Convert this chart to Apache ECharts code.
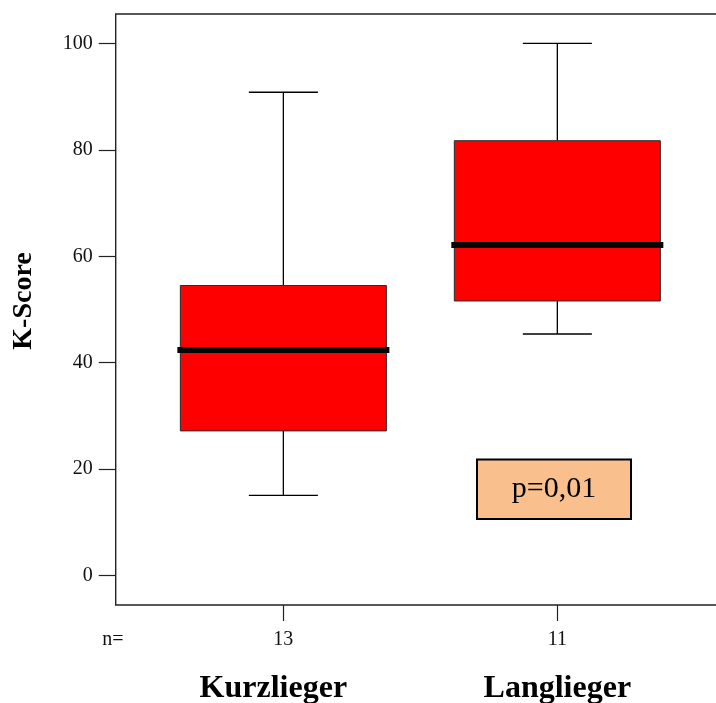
<!DOCTYPE html>
<html>
<head>
<meta charset="utf-8">
<script src="https://cdn.jsdelivr.net/npm/echarts@6/dist/echarts.min.js"></script>
<style>
  html, body { margin: 0; padding: 0; background: #fff; }
  #chart { width: 716px; height: 703px; }
</style>
</head>
<body>
<div id="chart"></div>
<script>
// Groups and their sample sizes
const categories = ['Kurzlieger', 'Langlieger'];
const sampleSizes = [13, 11];

// Five-number summaries of the K-Score per group
const minValues    = [15.1, 45.4];
const q1Values     = [27.2, 51.6];
const medianValues = [42.4, 62.1];
const q3Values     = [54.5, 81.7];
const maxValues    = [90.8, 100];

// Y axis tick values
const yTicks = [0, 20, 40, 60, 80, 100];

const pText = 'p=0,01';

const SERIF = '"Liberation Serif", "Times New Roman", "DejaVu Serif", serif';
const BOX_WIDTH = 0.752;   // in x-axis units
const CAP_WIDTH = 0.252;   // in x-axis units

const xPositions = categories.map((_, i) => i + 1);
const boxData = categories.map((_, i) => [
  xPositions[i], minValues[i], q1Values[i], medianValues[i], q3Values[i], maxValues[i]
]);

function renderBox(params, api) {
  const x = api.value(0);
  const pMin = api.coord([x, api.value(1)]);
  const pQ1 = api.coord([x, api.value(2)]);
  const pMed = api.coord([x, api.value(3)]);
  const pQ3 = api.coord([x, api.value(4)]);
  const pMax = api.coord([x, api.value(5)]);
  const halfBox = api.size([BOX_WIDTH, 0])[0] / 2;
  const halfCap = api.size([CAP_WIDTH, 0])[0] / 2;
  const cx = pMed[0];
  const lineStyle = { stroke: '#000', lineWidth: 1.3 };
  return {
    type: 'group',
    children: [
      { type: 'line', shape: { x1: cx, y1: pQ3[1], x2: cx, y2: pMax[1] }, style: lineStyle },
      { type: 'line', shape: { x1: cx - halfCap, y1: pMax[1], x2: cx + halfCap, y2: pMax[1] }, style: lineStyle },
      { type: 'line', shape: { x1: cx, y1: pQ1[1], x2: cx, y2: pMin[1] }, style: lineStyle },
      { type: 'line', shape: { x1: cx - halfCap, y1: pMin[1], x2: cx + halfCap, y2: pMin[1] }, style: lineStyle },
      {
        type: 'rect',
        shape: { x: cx - halfBox, y: pQ3[1], width: halfBox * 2, height: pQ1[1] - pQ3[1] },
        style: { fill: '#ff0000', stroke: '#2a2a2a', lineWidth: 1 }
      },
      {
        type: 'rect',
        shape: { x: cx - halfBox - 3, y: pMed[1] - 3, width: halfBox * 2 + 6, height: 6 },
        style: { fill: '#050505', stroke: null }
      }
    ]
  };
}

const chart = echarts.init(document.getElementById('chart'), null, { renderer: 'canvas' });

chart.setOption({
  backgroundColor: '#ffffff',
  animation: false,
  grid: {
    left: 115.7, top: 14, right: -9, bottom: 98,
    outerBoundsMode: 'none',
    containLabel: false,
    show: true, borderColor: '#222', borderWidth: 1.4, backgroundColor: 'transparent'
  },
  xAxis: [
    {
      type: 'value', min: 0.388, max: 2.612, position: 'bottom',
      splitLine: { show: false },
      axisLine: { show: false, onZero: false },
      axisTick: { show: true, customValues: xPositions, length: 16, lineStyle: { color: '#222', width: 1.2 } },
      axisLabel: {
        customValues: xPositions, margin: 25,
        fontFamily: SERIF, fontSize: 20, color: '#111', lineHeight: 20,
        formatter: (v) => String(sampleSizes[Math.round(v) - 1])
      }
    },
    {
      type: 'value', min: 0.388, max: 2.612, position: 'bottom',
      splitLine: { show: false },
      axisLine: { show: false, onZero: false },
      axisTick: { show: false },
      axisLabel: {
        customValues: xPositions, margin: 68,
        formatter: (v) => {
          const i = Math.round(v) - 1;
          return '{c' + i + '|' + categories[i] + '}';
        },
        rich: {
          c0: { fontFamily: SERIF, fontSize: 32, fontWeight: 'bold', color: '#000', lineHeight: 32, padding: [0, 20, 0, 0] },
          c1: { fontFamily: SERIF, fontSize: 32, fontWeight: 'bold', color: '#000', lineHeight: 32 }
        }
      }
    }
  ],
  yAxis: {
    type: 'value', min: -5.5, max: 105.5,
    splitLine: { show: false },
    axisLine: { show: false, onZero: false },
    axisTick: { show: true, customValues: yTicks, length: 17, lineStyle: { color: '#222', width: 1.2 } },
    axisLabel: {
      customValues: yTicks, margin: 23,
      fontFamily: SERIF, fontSize: 20, color: '#111'
    }
  },
  graphic: [
    {
      type: 'text', x: 24, y: 301, rotation: Math.PI / 2,
      style: {
        text: 'K-Score', fontFamily: SERIF, fontSize: 28, fontWeight: 'bold',
        fill: '#000', align: 'center', verticalAlign: 'middle'
      }
    },
    {
      type: 'text', x: 113, y: 640,
      style: {
        text: 'n=', fontFamily: SERIF, fontSize: 20, fill: '#111',
        align: 'center', verticalAlign: 'middle'
      }
    },
    {
      type: 'group', x: 477, y: 459.5,
      children: [
        {
          type: 'rect', shape: { x: 0, y: 0, width: 154, height: 59.5 },
          style: { fill: '#f9c08e', stroke: '#000', lineWidth: 2 }
        },
        {
          type: 'text', x: 77, y: 30,
          style: {
            text: pText, fontFamily: SERIF, fontSize: 30, fill: '#000',
            align: 'center', verticalAlign: 'middle'
          }
        }
      ]
    }
  ],
  series: [
    {
      type: 'custom',
      xAxisIndex: 0,
      renderItem: renderBox,
      encode: { x: 0, y: [1, 2, 3, 4, 5] },
      data: boxData,
      clip: false
    }
  ]
});
</script>
</body>
</html>
